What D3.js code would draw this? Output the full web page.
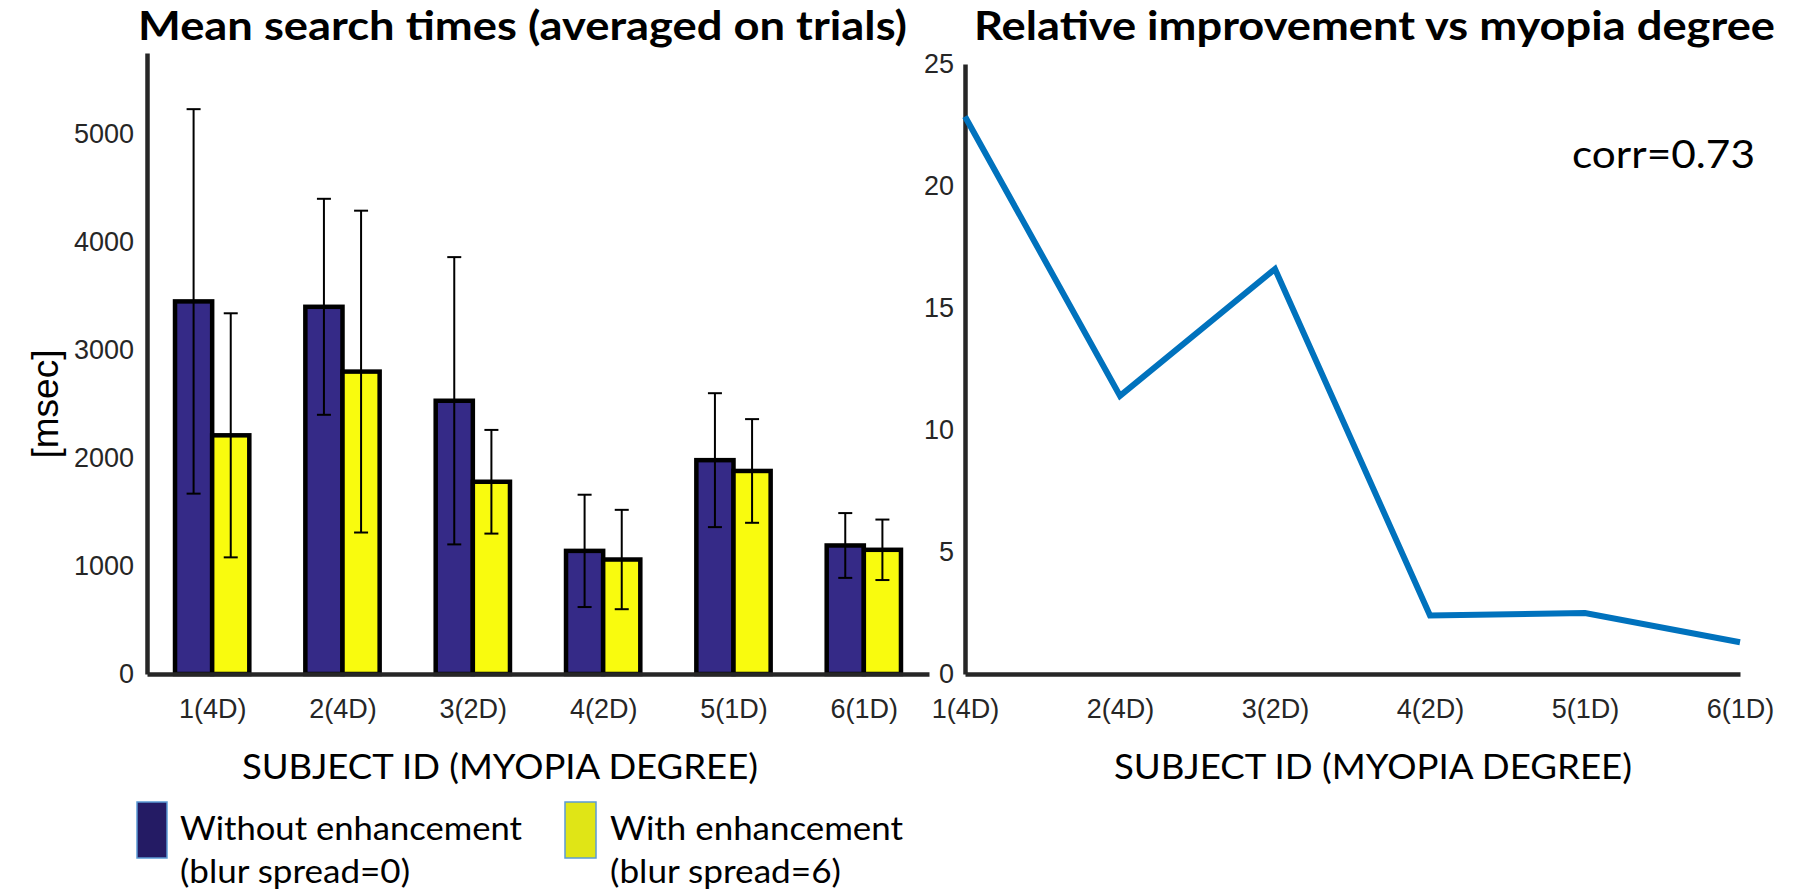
<!DOCTYPE html>
<html>
<head>
<meta charset="utf-8">
<script src="https://cdn.jsdelivr.net/npm/d3@7"></script>
<style>
  body { margin: 0; background: #fff; }
  .tick text { font-family: "Liberation Sans", Arial, sans-serif; fill: #262626; }
  .calib { font-family: Lato, "Open Sans", sans-serif; fill: #000; }
</style>
</head>
<body>
<div id="chart"></div>
<script>
var svgWidth = 1798;
var svgHeight = 889;

// subjects on the x axis of both panels
var subjects = ["1(4D)", "2(4D)", "3(2D)", "4(2D)", "5(1D)", "6(1D)"];

// mean search times [msec] and their error bars
var withoutMean = [3450, 3400, 2530, 1140, 1980, 1190];
var withoutErr = [1780, 1000, 1330, 520, 620, 300];
var withMean = [2210, 2800, 1780, 1060, 1880, 1150];
var withErr = [1130, 1490, 480, 460, 480, 280];

// relative improvement [%]
var improvement = [22.85, 11.4, 16.6, 2.4, 2.5, 1.3];

var leftTicks = [0, 1000, 2000, 3000, 4000, 5000];
var rightTicks = [0, 5, 10, 15, 20, 25];

var blueFill = "#352a87";
var yellowFill = "#f9fb0e";
var lineColor = "#0072bd";
var axisColor = "#262626";

var svg = d3.select("#chart")
  .append("svg")
  .attr("width", svgWidth)
  .attr("height", svgHeight);

// ---------- left panel: grouped bars ----------
var xLeft = d3.scaleLinear().domain([0.5, 6.5]).range([147, 929]);
var yLeft = d3.scaleLinear().domain([0, 5750]).range([674, 53]);
var barW = xLeft(1.285) - xLeft(1);

var leftGroup = svg.append("g");

var groups = leftGroup.selectAll(".grp")
  .data(subjects.map(function(s, i) {
    return { idx: i + 1, wo: withoutMean[i], woE: withoutErr[i], w: withMean[i], wE: withErr[i] };
  }))
  .enter()
  .append("g")
  .attr("class", "grp");

groups.append("rect")
  .attr("x", d => xLeft(d.idx) - barW)
  .attr("y", d => yLeft(d.wo))
  .attr("width", barW)
  .attr("height", d => yLeft(0) - yLeft(d.wo))
  .attr("fill", blueFill)
  .attr("stroke", "#000")
  .attr("stroke-width", 4.5);

groups.append("rect")
  .attr("x", d => xLeft(d.idx))
  .attr("y", d => yLeft(d.w))
  .attr("width", barW)
  .attr("height", d => yLeft(0) - yLeft(d.w))
  .attr("fill", yellowFill)
  .attr("stroke", "#000")
  .attr("stroke-width", 4.5);

// error bars
function errorBar(sel, cx, mean, err) {
  var g = sel.append("g").attr("stroke", "#000").attr("stroke-width", 2);
  g.append("line")
    .attr("x1", cx).attr("x2", cx)
    .attr("y1", d => yLeft(d[mean] + d[err]))
    .attr("y2", d => yLeft(d[mean] - d[err]));
  g.append("line")
    .attr("x1", d => cx(d) - 7).attr("x2", d => cx(d) + 7)
    .attr("y1", d => yLeft(d[mean] + d[err]))
    .attr("y2", d => yLeft(d[mean] + d[err]));
  g.append("line")
    .attr("x1", d => cx(d) - 7).attr("x2", d => cx(d) + 7)
    .attr("y1", d => yLeft(d[mean] - d[err]))
    .attr("y2", d => yLeft(d[mean] - d[err]));
}
errorBar(groups, d => xLeft(d.idx) - barW / 2, "wo", "woE");
errorBar(groups, d => xLeft(d.idx) + barW / 2, "w", "wE");

// axes
var leftY = leftGroup.append("g")
  .attr("transform", `translate(${xLeft(0.5)},0)`)
  .call(d3.axisLeft(yLeft).tickValues(leftTicks).tickFormat(d3.format("d"))
    .tickSize(0).tickSizeOuter(0).tickPadding(13));

var leftX = leftGroup.append("g")
  .attr("transform", `translate(0,${yLeft(0)})`)
  .call(d3.axisBottom(xLeft).tickValues([1, 2, 3, 4, 5, 6])
    .tickFormat((d, i) => subjects[i]).tickSize(0).tickSizeOuter(0));

// ---------- right panel: line ----------
var xRight = d3.scaleLinear().domain([1, 6]).range([965, 1740]);
var yRight = d3.scaleLinear().domain([0, 25]).range([674, 64]);

var rightGroup = svg.append("g");

var rightY = rightGroup.append("g")
  .attr("transform", `translate(${xRight(1)},0)`)
  .call(d3.axisLeft(yRight).tickValues(rightTicks).tickFormat(d3.format("d"))
    .tickSize(0).tickSizeOuter(0).tickPadding(11));

var rightX = rightGroup.append("g")
  .attr("transform", `translate(0,${yRight(0)})`)
  .call(d3.axisBottom(xRight).tickValues([1, 2, 3, 4, 5, 6])
    .tickFormat((d, i) => subjects[i]).tickSize(0).tickSizeOuter(0));

rightGroup.append("path")
  .datum(improvement)
  .attr("fill", "none")
  .attr("stroke", lineColor)
  .attr("stroke-width", 6)
  .attr("d", d3.line().x((d, i) => xRight(i + 1)).y(d => yRight(d)));

// axis styling
[leftY, leftX, rightY, rightX].forEach(function(ax) {
  ax.select(".domain").attr("stroke", axisColor).attr("stroke-width", 4.5);
  ax.selectAll(".tick text").attr("font-size", 27);
});
[leftX, rightX].forEach(function(ax) {
  ax.selectAll(".tick text").attr("dy", null).attr("y", 44);
});

// ---------- texts ----------
function addText(x, y, txt, size, len, bold) {
  svg.append("text")
    .attr("class", "calib")
    .attr("x", x)
    .attr("y", y)
    .attr("font-size", size)
    .attr("font-weight", bold ? 700 : 400)
    .attr("textLength", len)
    .attr("lengthAdjust", "spacingAndGlyphs")
    .text(txt);
}

addText(138, 40, "Mean search times (averaged on trials)", 40, 769, true);
addText(974, 40, "Relative improvement vs myopia degree", 40, 801, true);
addText(1572, 168, "corr=0.73", 39, 183, false);
addText(242, 779, "SUBJECT ID (MYOPIA DEGREE)", 34, 516, false);
addText(1114, 779, "SUBJECT ID (MYOPIA DEGREE)", 34, 518, false);

svg.append("text")
  .attr("transform", `translate(58,${yLeft(2500)}) rotate(-90)`)
  .attr("text-anchor", "middle")
  .attr("font-family", "Liberation Sans, Arial, sans-serif")
  .attr("font-size", 37)
  .attr("fill", "#000")
  .text("[msec]");

// ---------- legend ----------
svg.append("rect")
  .attr("x", 137).attr("y", 802).attr("width", 30).attr("height", 56)
  .attr("fill", "#241b64").attr("stroke", "#5b9bd5").attr("stroke-width", 1.5);
svg.append("rect")
  .attr("x", 565).attr("y", 802).attr("width", 31).attr("height", 56)
  .attr("fill", "#e0e516").attr("stroke", "#5b9bd5").attr("stroke-width", 1.5);

addText(180, 840, "Without enhancement", 32, 342, false);
addText(180, 883, "(blur spread=0)", 32, 230, false);
addText(610, 840, "With enhancement", 32, 293, false);
addText(610, 883, "(blur spread=6)", 32, 231, false);
</script>
</body>
</html>
